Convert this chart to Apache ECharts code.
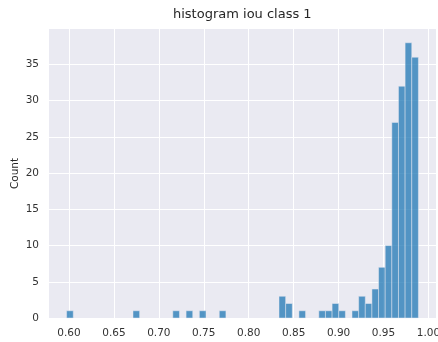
<!DOCTYPE html>
<html>
<head>
<meta charset="utf-8">
<script src="https://cdn.jsdelivr.net/npm/echarts@6/dist/echarts.min.js"></script>
<style>
  html, body { margin: 0; padding: 0; background: #ffffff; }
  #chart { width: 438px; height: 342px; }
</style>
</head>
<body>
<div id="chart"></div>
<script>
// Histogram of IoU scores for class 1
const titleText = 'histogram iou class 1';
const yAxisName = 'Count';

// Bin layout: first bin's left edge and the common bin width
const binStart = 0.5974;
const binWidth = 0.007385;

// Count per bin (53 bins, left to right)
const binCounts = [
  1, 0, 0, 0, 0, 0, 0, 0, 0, 0,
  1, 0, 0, 0, 0, 0, 1, 0, 1, 0,
  1, 0, 0, 1, 0, 0, 0, 0, 0, 0,
  0, 0, 3, 2, 0, 1, 0, 0, 1, 1,
  2, 1, 0, 1, 3, 2, 4, 7, 10, 27,
  32, 38, 36
];

// Axis ranges and tick labels
const xRange = [0.5778, 1.0084];
const yRange = [0, 39.9];
const xTicks = [0.60, 0.65, 0.70, 0.75, 0.80, 0.85, 0.90, 0.95, 1.00];
const yTicks = [0, 5, 10, 15, 20, 25, 30, 35];

const barData = binCounts.map((c, i) => [binStart + i * binWidth, binStart + (i + 1) * binWidth, c]);

const chart = echarts.init(document.getElementById('chart'), null, { renderer: 'canvas' });

const labelStyle = { color: '#333333', fontSize: 10.5, fontFamily: 'DejaVu Sans' };

chart.setOption({
  animation: false,
  backgroundColor: '#ffffff',
  title: {
    text: titleText,
    left: 173,
    top: 8,
    padding: 0,
    textStyle: { color: '#262626', fontSize: 13, fontWeight: 'normal', fontFamily: 'DejaVu Sans' }
  },
  grid: {
    left: 49, right: 2, top: 29, bottom: 24,
    containLabel: false,
    outerBoundsMode: 'none',
    show: true, backgroundColor: '#eaeaf2', borderWidth: 0
  },
  xAxis: {
    type: 'value',
    min: xRange[0], max: xRange[1],
    axisLine: { show: false },
    axisTick: { show: false, customValues: xTicks },
    axisLabel: Object.assign({ customValues: xTicks, margin: 10, formatter: v => v.toFixed(2) }, labelStyle),
    splitLine: { show: true, lineStyle: { color: '#ffffff', width: 1 } }
  },
  yAxis: {
    type: 'value',
    min: yRange[0], max: yRange[1],
    name: yAxisName,
    nameLocation: 'middle',
    nameGap: 28,
    nameMoveOverlap: false,
    nameTextStyle: { color: '#262626', fontSize: 10.5, fontFamily: 'DejaVu Sans' },
    axisLine: { show: false },
    axisTick: { show: false, customValues: yTicks },
    axisLabel: Object.assign({ customValues: yTicks, margin: 10 }, labelStyle),
    splitLine: { show: true, lineStyle: { color: '#ffffff', width: 1 } }
  },
  series: [{
    type: 'custom',
    data: barData,
    encode: { x: [0, 1], y: 2 },
    renderItem: function (params, api) {
      const count = api.value(2);
      if (!count) return null;
      const p0 = api.coord([api.value(0), count]);
      const p1 = api.coord([api.value(1), 0]);
      return {
        type: 'rect',
        shape: { x: p0[0], y: p0[1], width: p1[0] - p0[0], height: p1[1] - p0[1] },
        style: { fill: 'rgba(31,119,180,0.75)', stroke: 'rgba(234,234,242,0.6)', lineWidth: 0.8 }
      };
    }
  }]
});
</script>
</body>
</html>
